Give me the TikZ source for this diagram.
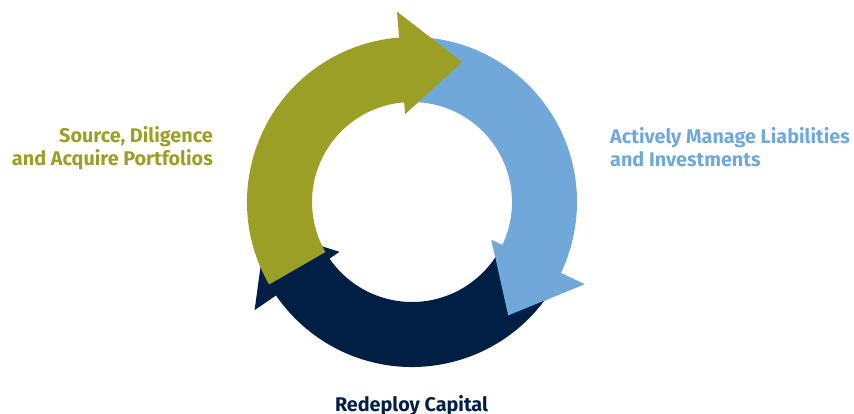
\documentclass[tikz,border=0pt]{standalone}
\usepackage{fontspec}
\setmainfont{Fira Sans}
\definecolor{sourcegreen}{HTML}{9B9F26}
\definecolor{manageblue}{HTML}{71A8DA}
\definecolor{redeploynavy}{HTML}{011F45}

\begin{document}
\begin{tikzpicture}[x=1pt, y=1pt]
    \useasboundingbox (0,0) rectangle (854,413);

    \begin{scope}[shift={(412,211)}]
    % Arrows of the cycle: start, end of band, tip, colour
    \foreach \s/\e/\t/\col in {90/-25.5/-49.7/manageblue, -30/-145.5/-169.7/redeploynavy, 210/94.5/70.3/sourcegreen}
        \fill[\col] (\s:165) arc[start angle=\s, end angle=\e, radius=165]
            -- (\e:191) -- (\t:148.7) -- (\e:88) -- (\e:100)
            arc[start angle=\e, end angle=\s, radius=100] -- cycle;
    % Blue head lies over the navy tail
    \fill[manageblue] (-25.5:191) -- (-49.7:148.7) -- (-25.5:88) -- cycle;
    \end{scope}

    % Labels
    \node[sourcegreen, font=\bfseries\fontsize{19.8}{23}\selectfont, align=right, anchor=east, inner sep=0pt] (source) at (213,265) {Source, Diligence\\and Acquire Portfolios};
    \node[manageblue, font=\bfseries\fontsize{19.8}{23}\selectfont, align=left, anchor=west, inner sep=0pt] (manage) at (610,266) {Actively Manage Liabilities\\and Investments};
    \node[redeploynavy, font=\bfseries\fontsize{19.8}{23}\selectfont, anchor=base, inner sep=0pt] (redeploy) at (411.5,1.5) {Redeploy Capital};
\end{tikzpicture}
\end{document}
